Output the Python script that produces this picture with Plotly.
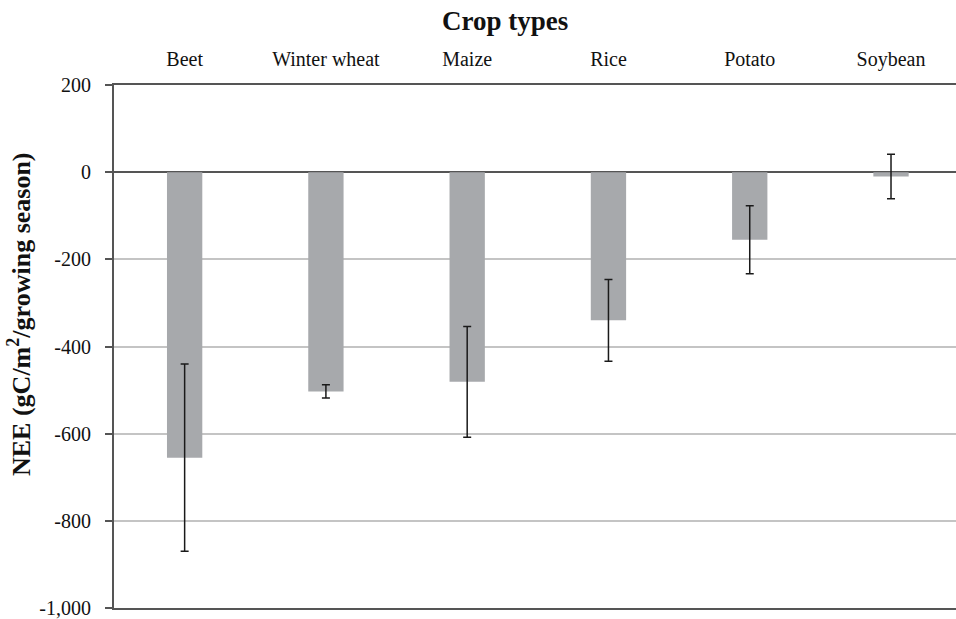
import plotly.graph_objects as go

crops = ["Beet", "Winter wheat", "Maize", "Rice", "Potato", "Soybean"]
nee = [-655, -503, -481, -340, -155, -10]
nee_err = [215, 15, 127, 94, 78, 51]
y_ticks = [200, 0, -200, -400, -600, -800, -1000]
y_tick_labels = ["200", "0", "-200", "-400", "-600", "-800", "-1,000"]
x_title = "Crop types"
y_title = "NEE (gC/m<sup>2</sup>/growing season)"

FONT = "Liberation Serif, Times New Roman, serif"

fig = go.Figure()
fig.add_trace(go.Bar(
    x=list(range(len(crops))),
    y=nee,
    width=0.25,
    marker=dict(color="#a7a9ac", line=dict(width=0)),
    error_y=dict(type="data", array=nee_err, visible=True,
                 color="#1a1a1a", thickness=1.5, width=4),
))

fig.update_layout(
    width=956, height=619,
    margin=dict(l=114, r=0, t=85, b=11),
    paper_bgcolor="white", plot_bgcolor="white",
    showlegend=False,
    font=dict(family=FONT, color="#111111", size=20),
    xaxis=dict(
        side="top",
        range=[-0.5, 5.46],
        tickvals=list(range(len(crops))),
        ticktext=crops,
        tickfont=dict(size=20, family=FONT),
        ticks="",
        ticklabelstandoff=9,
        showgrid=False,
        zeroline=False,
        showline=True, mirror=True,
        linecolor="#555555", linewidth=2,
    ),
    yaxis=dict(
        range=[-1000, 200],
        tickvals=y_ticks,
        ticktext=y_tick_labels,
        tickfont=dict(size=20, family=FONT),
        ticks="outside", ticklen=7, tickcolor="#555555", tickwidth=1.5,
        ticklabelstandoff=10,
        showgrid=True, gridcolor="#c4c4c4", gridwidth=1.5,
        zeroline=True, zerolinecolor="#555555", zerolinewidth=1.5,
        showline=True, linecolor="#555555", linewidth=2,
    ),
    annotations=[
        dict(text="<b>" + x_title + "</b>", xref="paper", yref="paper",
             x=(505 - 114) / 842, y=1, yshift=64, xanchor="center", yanchor="middle",
             showarrow=False, font=dict(size=27, family=FONT, color="#111111")),
        dict(text="<b>" + y_title + "</b>", xref="paper", yref="paper",
             x=0, xshift=-95, y=(608 - 314) / 523, xanchor="center", yanchor="middle",
             textangle=-90, showarrow=False,
             font=dict(size=26, family=FONT, color="#111111")),
    ],
)

fig.write_html("out.html")
